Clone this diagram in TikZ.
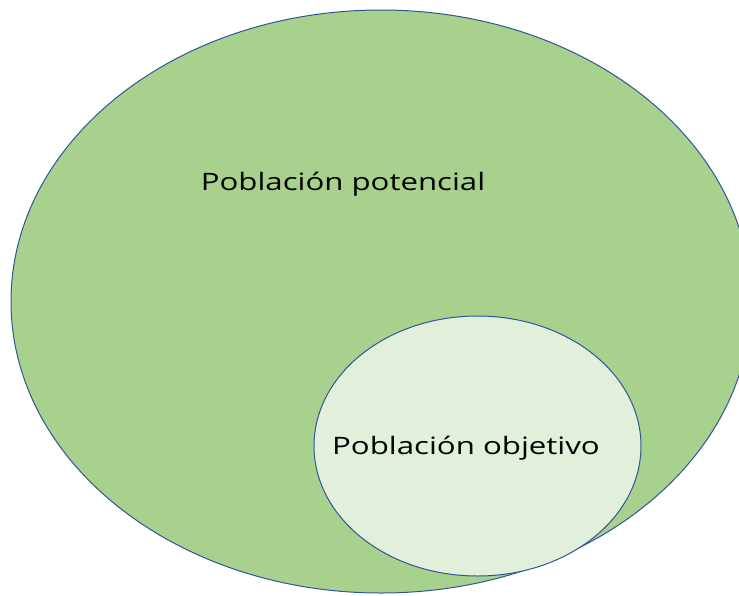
\documentclass[tikz,border=0pt]{standalone}
\usepackage{fontspec}
\setmainfont{Open Sans}
\newfontfamily\etiqueta[FakeStretch=1.3]{Open Sans}
\usepackage{xcolor}
\definecolor{verdeos}{HTML}{A9D18E}
\definecolor{verdecl}{HTML}{E2EFDA}
\definecolor{borde}{HTML}{2F5597}

\begin{document}
\begin{tikzpicture}[x=1pt, y=-1pt]
\useasboundingbox (0,0) rectangle (739,595);
\clip (0,0) rectangle (739,595);
\filldraw[fill=verdeos, draw=borde, line width=1pt] (381,301.5) ellipse [x radius=370, y radius=291.5]; % poblacion potencial
\filldraw[fill=verdecl, draw=borde, line width=1pt] (477.5,446) ellipse [x radius=163.5, y radius=130]; % poblacion objetivo
\node[font=\etiqueta\fontsize{24}{28}\selectfont] (potencial) at (343,184) {Población potencial};
\node[font=\etiqueta\fontsize{24}{28}\selectfont] (objetivo) at (466,448) {Población objetivo};
\end{tikzpicture}
\end{document}
